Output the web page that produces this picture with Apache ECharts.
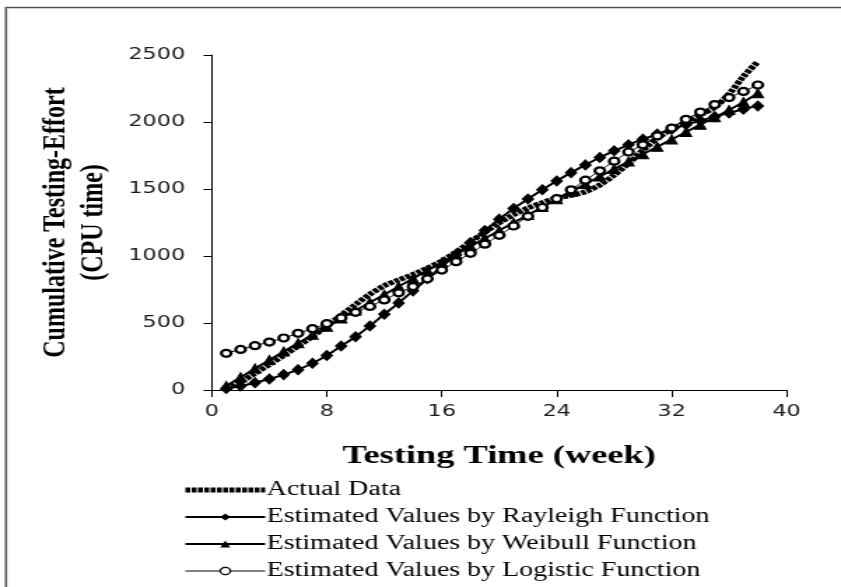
<!DOCTYPE html>
<html>
<head>
<meta charset="utf-8">
<script src="https://cdn.jsdelivr.net/npm/echarts@6/dist/echarts.min.js"></script>
<style>
  html, body { margin: 0; padding: 0; background: #fff; overflow: hidden; width: 841px; height: 587px; }
  /* the chart is laid out in a narrower box and stretched across the page width */
  #chart { width: 601px; height: 587px; transform-origin: 0 0; }
</style>
</head>
<body>
<div id="chart"></div>
<script>
// Cumulative testing-effort (CPU time) per week
const weeks = [1, 2, 3, 4, 5, 6, 7, 8, 9, 10, 11, 12, 13, 14, 15, 16, 17, 18, 19, 20,
               21, 22, 23, 24, 25, 26, 27, 28, 29, 30, 31, 32, 33, 34, 35, 36, 37, 38];

const actualData = [5, 60, 125, 190, 258, 328, 400, 478, 558, 638, 715, 778, 822, 862, 910, 962,
                    1030, 1105, 1178, 1248, 1308, 1358, 1398, 1435, 1452, 1480, 1530, 1605, 1690, 1790,
                    1880, 1945, 2000, 2055, 2110, 2210, 2340, 2450];

const rayleighValues = [12, 30, 55, 82, 115, 152, 200, 258, 328, 398, 478, 565, 650, 740, 830, 920,
                        1010, 1100, 1190, 1275, 1355, 1425, 1495, 1560, 1622, 1680, 1735, 1785, 1830, 1872,
                        1910, 1946, 1980, 2010, 2040, 2068, 2095, 2120];

const weibullValues = [30, 95, 160, 224, 288, 350, 412, 472, 533, 593, 653, 712, 772, 832, 892, 952,
                       1012, 1072, 1131, 1190, 1249, 1307, 1365, 1423, 1480, 1537, 1593, 1649, 1705, 1760,
                       1815, 1870, 1925, 1980, 2035, 2090, 2150, 2215];

const logisticValues = [274, 303, 331, 358, 388, 423, 458, 495, 538, 580, 624, 672, 725, 772, 830, 895,
                        958, 1020, 1088, 1154, 1224, 1296, 1362, 1428, 1494, 1566, 1636, 1708, 1776, 1830,
                        1896, 1955, 2020, 2074, 2130, 2182, 2228, 2276];

const seriesNames = [
  'Actual Data',
  'Estimated Values by Rayleigh Function',
  'Estimated Values by Weibull Function',
  'Estimated Values by Logistic Function'
];

const xTicks = { min: 0, max: 40, step: 8 };
const yTicks = { min: 0, max: 2500, step: 500 };

const pageWidth = 841;
const box = document.getElementById('chart');
const boxWidth = box.clientWidth;
box.style.transform = 'scaleX(' + (pageWidth / boxWidth) + ')';

function pairs(values) {
  return weeks.map((w, i) => [w, values[i]]);
}

const chart = echarts.init(box, null, { renderer: 'canvas' });

const tickFont = { fontFamily: 'DejaVu Sans', fontSize: 16, color: '#1a1a1a' };
const serif = 'Liberation Serif';
const actualLine = { color: '#000', width: 5, type: [3.5, 1], cap: 'butt' };

chart.setOption({
  animation: false,
  backgroundColor: '#fff',
  grid: { left: 151.4, right: 38.9, top: 55, bottom: 197, containLabel: false },
  graphic: [{
    type: 'rect',
    silent: true,
    shape: { x: 4.3, y: 7.5, width: 700, height: 700 },
    style: { fill: 'none', stroke: '#555', lineWidth: 1.6 }
  }],
  xAxis: {
    type: 'value',
    min: xTicks.min, max: xTicks.max, interval: xTicks.step,
    name: 'Testing Time (week)',
    nameLocation: 'middle',
    nameGap: 53,
    nameTextStyle: { fontFamily: serif, fontWeight: 'bold', fontSize: 26, color: '#000' },
    axisLine: { lineStyle: { color: '#000', width: 1 } },
    axisTick: { length: 7, lineStyle: { color: '#000', width: 1 } },
    axisLabel: Object.assign({ margin: 14 }, tickFont),
    splitLine: { show: false }
  },
  yAxis: {
    type: 'value',
    min: yTicks.min, max: yTicks.max, interval: yTicks.step,
    name: 'Cumulative Testing-Effort\n(CPU time)',
    nameLocation: 'middle',
    nameGap: 71,
    nameRotate: 90,
    nameTextStyle: { fontFamily: serif, fontWeight: 'bold', fontSize: 24, color: '#000', lineHeight: 27, align: 'center' },
    axisLine: { show: true, lineStyle: { color: '#000', width: 1 } },
    axisTick: { show: true, length: 6, lineStyle: { color: '#000', width: 1 } },
    axisLabel: Object.assign({ margin: 19, formatter: v => String(v) }, tickFont),
    splitLine: { show: false }
  },
  legend: {
    orient: 'vertical',
    left: 130,
    top: 480,
    height: 110,
    padding: 0,
    itemWidth: 57,
    itemHeight: 9,
    itemGap: 7,
    textStyle: { fontFamily: serif, fontSize: 20, color: '#000', lineHeight: 20, padding: [0, 0, 0, -4] },
    data: [
      { name: seriesNames[0], itemStyle: { opacity: 0 }, lineStyle: actualLine },
      { name: seriesNames[1] },
      { name: seriesNames[2] },
      { name: seriesNames[3], lineStyle: { width: 1 }, itemStyle: { borderWidth: 1.2 } }
    ]
  },
  series: [
    {
      name: seriesNames[0],
      type: 'line',
      data: pairs(actualData),
      symbol: 'none',
      smooth: 0.3,
      z: 3,
      lineStyle: actualLine,
      itemStyle: { color: '#000' }
    },
    {
      name: seriesNames[1],
      type: 'line',
      data: pairs(rayleighValues),
      symbol: 'diamond',
      symbolSize: [8, 10],
      smooth: 0.3,
      z: 4,
      lineStyle: { color: '#000', width: 2 },
      itemStyle: { color: '#000', borderColor: '#000' }
    },
    {
      name: seriesNames[2],
      type: 'line',
      data: pairs(weibullValues),
      symbol: 'triangle',
      symbolSize: [8, 9],
      smooth: 0.3,
      z: 5,
      lineStyle: { color: '#000', width: 2 },
      itemStyle: { color: '#000', borderColor: '#000' }
    },
    {
      name: seriesNames[3],
      type: 'line',
      data: pairs(logisticValues),
      symbol: 'circle',
      symbolSize: 7,
      smooth: 0.3,
      z: 6,
      lineStyle: { color: '#000', width: 1 },
      itemStyle: { color: '#fff', borderColor: '#000', borderWidth: 2.2 }
    }
  ]
});
</script>
</body>
</html>
